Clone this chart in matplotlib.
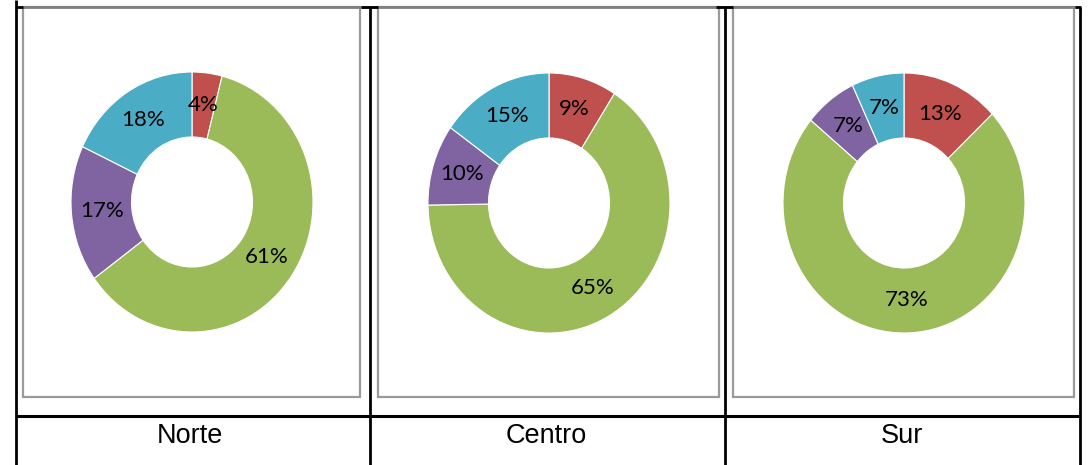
import matplotlib.pyplot as plt
from matplotlib.patches import Rectangle

W, H = 1091, 465

regiones = ["Norte", "Centro", "Sur"]
# orden de los sectores: rojo, verde, morado, azul (sentido horario desde arriba)
norte = [4, 61, 17, 18]
centro = [9, 65, 10, 15]
sur = [13, 73, 7, 7]
colores = ["#C0504D", "#9BBB59", "#8064A2", "#4BACC6"]

datos = [norte, centro, sur]
centros = [(192, 202), (549, 203), (904, 203)]   # centro de cada dona en px
rx, ry = 121, 130
marcos = [(23, 360), (378, 719), (733, 1074)]
lineas_v = [16, 370, 725, 1080]

fig = plt.figure(figsize=(W / 100, H / 100), dpi=100)

# capa de fondo en pixeles para la tabla y los marcos
bg = fig.add_axes([0, 0, 1, 1])
bg.set_xlim(0, W)
bg.set_ylim(H, 0)
bg.axis("off")

for x0, x1 in marcos:
    bg.add_patch(Rectangle((x0, 7.5), x1 - x0, 389.5, fill=False,
                           edgecolor="#9a9a9a", lw=1.6))
bg.plot([23, 1075], [7, 7], color="#808080", lw=2)
for x in lineas_v:
    if x == 16:
        bg.plot([x, x], [0, H], color="black", lw=2, solid_capstyle="butt")
        bg.plot([x, x + 7], [7, 7], color="black", lw=2, solid_capstyle="butt")
    elif x == 1080:
        bg.plot([x, x], [7, H], color="black", lw=2, solid_capstyle="butt")
        bg.plot([x - 5, x + 1], [7, 7], color="black", lw=2, solid_capstyle="butt")
    else:
        bg.plot([x, x], [7, H], color="black", lw=2, solid_capstyle="butt")
        bg.plot([x - 9, x + 8], [7, 7], color="black", lw=2, solid_capstyle="butt")
bg.plot([16, 1080], [416, 416], color="black", lw=2.2, solid_capstyle="butt")

for (x0, x1), nombre in zip(marcos, regiones):
    bg.text((x0 + x1) / 2 - 2, 436, nombre, ha="center", va="center",
            fontsize=19.5, family="Liberation Sans")

for vals, (cx, cy) in zip(datos, centros):
    ax = fig.add_axes([(cx - rx) / W, 1 - (cy + ry) / H, 2 * rx / W, 2 * ry / H])
    wedges, textos, autotextos = ax.pie(
        vals, colors=colores, startangle=90, counterclock=False,
        radius=1, autopct="%1.0f%%", pctdistance=0.75,
        wedgeprops=dict(width=0.5, edgecolor="white", linewidth=0.8))
    for t, v in zip(autotextos, vals):
        t.set_text(f"{v}%")
        t.set_fontsize(16)
        t.set_family("Lato")
        t.set_color("black")
    ax.set_aspect("auto")
    ax.set_xlim(-1, 1)
    ax.set_ylim(-1, 1)
    ax.axis("off")

fig.savefig("out.png", dpi=100)
